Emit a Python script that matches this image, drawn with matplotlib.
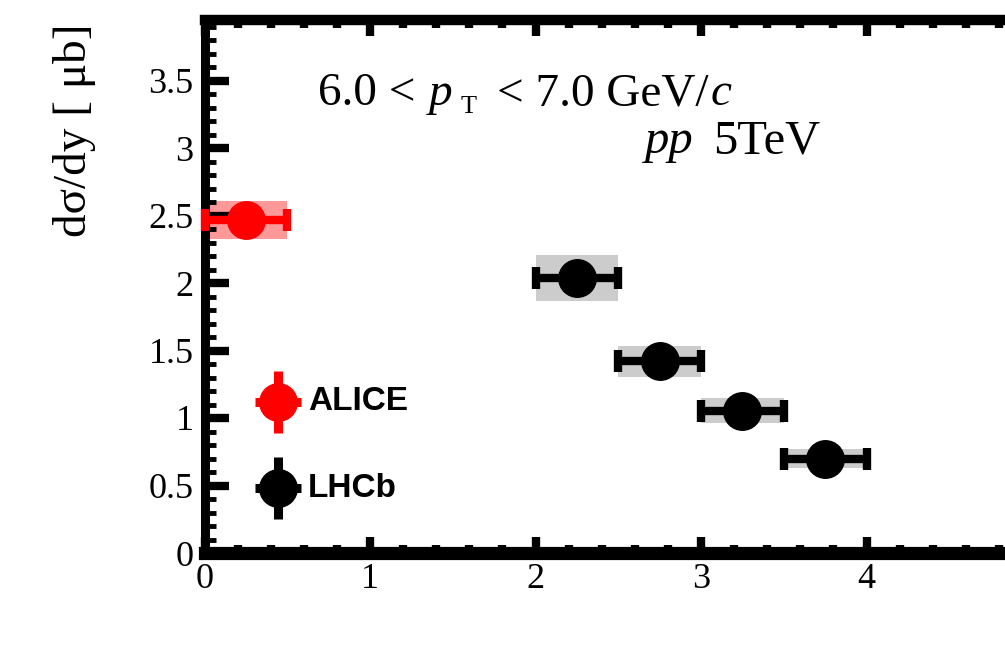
import matplotlib
matplotlib.use("Agg")
import matplotlib.pyplot as plt
from matplotlib.ticker import MultipleLocator, FixedLocator
import numpy as np

# ---------------- data ----------------
alice_x = [0.25]
alice_xerr = [0.25]
alice_y = [2.465]
alice_stat = [0.05]
alice_sys = [0.14]

lhcb_x = [2.25, 2.75, 3.25, 3.75]
lhcb_xerr = [0.25, 0.25, 0.25, 0.25]
lhcb_y = [2.04, 1.42, 1.055, 0.70]
lhcb_stat = [0.05, 0.04, 0.03, 0.03]
lhcb_sys = [0.17, 0.115, 0.095, 0.072]

x_ticks = [0, 1, 2, 3, 4]
x_ticklabels = ["0", "1", "2", "3", "4"]
y_ticks = [0, 0.5, 1, 1.5, 2, 2.5, 3, 3.5]
y_ticklabels = ["0", "0.5", "1", "1.5", "2", "2.5", "3", "3.5"]

ylabel = "dσ/dy [ μb]"
legend_names = ["ALICE", "LHCb"]

# ---------------- style ----------------
plt.rcParams["font.family"] = ["Liberation Serif", "DejaVu Serif"]

RED = "#ff0000"
PINK = "#ff9999"
GRAY = "#cccccc"

W, H = 1005, 650
fig = plt.figure(figsize=(W / 100, H / 100), dpi=100)
x0_px, y0_px, ytop_px = 204.5, 553, 20
px_per_x = 165.5
px_per_y = 135.0
ax = fig.add_axes([x0_px / W, (H - y0_px) / H, 5 * px_per_x / W, (y0_px - ytop_px) / H])
ax.set_xlim(0, 5)
ax.set_ylim(0, (y0_px - ytop_px) / px_per_y)

for side, lw in [("left", 6.5), ("bottom", 9.5), ("top", 7.5), ("right", 7.5)]:
    ax.spines[side].set_linewidth(lw)
    ax.spines[side].set_color("black")

ax.xaxis.set_major_locator(FixedLocator(x_ticks))
ax.set_xticklabels(x_ticklabels)
ax.xaxis.set_minor_locator(MultipleLocator(0.2))
ax.yaxis.set_major_locator(FixedLocator(y_ticks))
ax.set_yticklabels(y_ticklabels)
ax.yaxis.set_minor_locator(MultipleLocator(0.1))

ax.tick_params(axis="both", which="both", direction="in", top=True, right=False,
               labelsize=26, colors="black")
ax.tick_params(axis="y", which="major", length=17, width=6, pad=8)
ax.tick_params(axis="y", which="minor", length=8, width=3.5)
ax.tick_params(axis="x", which="major", length=11.5, width=6, pad=7)
ax.tick_params(axis="x", which="minor", length=5.5, width=6)

# systematic boxes
ax.bar(alice_x, [2 * s for s in alice_sys], bottom=[y - s for y, s in zip(alice_y, alice_sys)],
       width=[2 * e for e in alice_xerr], color=PINK, zorder=1, linewidth=0)
ax.bar(lhcb_x, [2 * s for s in lhcb_sys], bottom=[y - s for y, s in zip(lhcb_y, lhcb_sys)],
       width=[2 * e for e in lhcb_xerr], color=GRAY, zorder=1, linewidth=0)

# points with error bars
for xs, ys, xe, ye, c in [(alice_x, alice_y, alice_xerr, alice_stat, RED),
                          (lhcb_x, lhcb_y, lhcb_xerr, lhcb_stat, "black")]:
    eb = ax.errorbar(xs, ys, xerr=xe, yerr=ye, fmt="o", color=c, ms=27,
                     elinewidth=6, capsize=8, capthick=6, zorder=4)
    for art in list(eb.lines[1]) + list(eb.lines[2]) + [eb.lines[0]]:
        art.set_clip_on(False)

# legend (manual)
leg_x = 0.443
leg_y = [1.119, 0.48]
for name, yy, c in zip(legend_names, leg_y, [RED, "black"]):
    ax.errorbar([leg_x], [yy], xerr=[0.14], yerr=[0.23], fmt="o", color=c, ms=27,
                elinewidth=6.5, capsize=0, zorder=4)
    ax.text(0.624, yy, name, fontsize=24, fontweight="bold", family="Liberation Sans",
            va="center", ha="left", zorder=5)

# annotations
fs = 34
fig.text(318 / W, 1 - 105 / H, "6.0 <", fontsize=fs, ha="left", va="baseline")
fig.text(429 / W, 1 - 105 / H, "p", fontsize=fs, style="italic", ha="left", va="baseline")
fig.text(461 / W, 1 - 113 / H, "T", fontsize=19, ha="left", va="baseline")
fig.text(497 / W, 1 - 105 / H, "< 7.0 GeV/", fontsize=fs, ha="left", va="baseline")
fig.text(711 / W, 1 - 105 / H, "c", fontsize=fs, style="italic", ha="left", va="baseline")
fig.text(645 / W, 1 - 153 / H, "pp", fontsize=35, style="italic", ha="left", va="baseline")
fig.text(713 / W, 1 - 153 / H, "5TeV", fontsize=35, ha="left", va="baseline")

fig.text(75 / W, 1 - 130 / H, ylabel, rotation=90, fontsize=34, ha="center", va="center")

fig.savefig("out.png", dpi=100)
